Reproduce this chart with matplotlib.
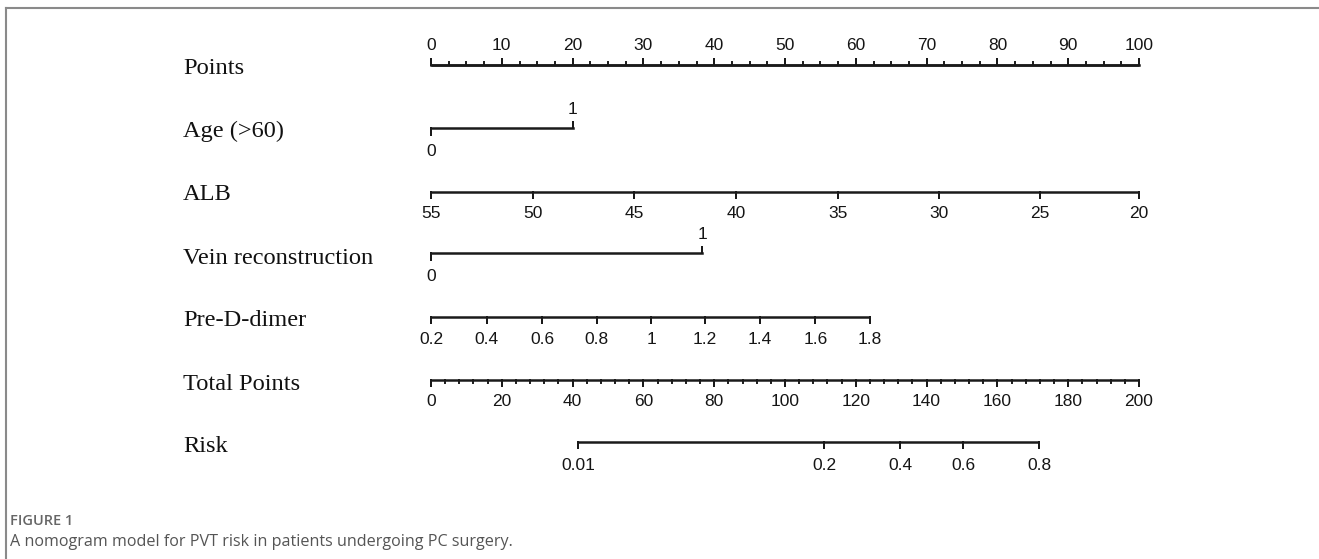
import numpy as np
import matplotlib.pyplot as plt

# nomogram values
points_major = np.arange(0, 101, 10)
points_minor = np.arange(0, 100.1, 2.5)

age_labels = ['0', '1']
age_points = [0, 20]

alb_labels = ['55', '50', '45', '40', '35', '30', '25', '20']
alb_points = [0, 14.4, 28.7, 43.1, 57.5, 71.8, 86.0, 100]

vein_labels = ['0', '1']
vein_points = [0, 38.3]

dd_labels = ['0.2', '0.4', '0.6', '0.8', '1', '1.2', '1.4', '1.6', '1.8']
dd_points = [0, 7.9, 15.7, 23.4, 31.1, 38.7, 46.5, 54.3, 62.0]

total_major = np.arange(0, 201, 20)
total_minor = np.arange(0, 200.1, 4)

risk_labels = ['0.01', '0.2', '0.4', '0.6', '0.8']
risk_total = [41.5, 111.0, 132.5, 150.3, 171.8]

row_names = ['Points', 'Age (>60)', 'ALB', 'Vein reconstruction',
             'Pre-D-dimer', 'Total Points', 'Risk']
row_y = [65, 127.5, 192, 252.5, 317, 380, 441.5]
name_y = [68, 131, 194, 258, 321, 384, 447]

W, H = 1319, 559
fig = plt.figure(figsize=(W / 100, H / 100), dpi=100)
ax = fig.add_axes([0, 0, 1, 1])
# x in "points" units: 0 -> pixel 431, 100 -> pixel 1139
x0, sc = 431, 7.08
ax.set_xlim(-x0 / sc, (W - x0) / sc)
ax.set_ylim(H, 0)
ax.axis('off')

lc = '#1a1a1a'
lw = 1.8
tfont = dict(family='Liberation Sans', size=12.5, color='#151515')


def scale(y, pts, labels, up=False, tick=6, label_off=21):
    ax.plot([min(pts), max(pts)], [y, y], color=lc, lw=lw, solid_capstyle='butt')
    d = -tick if up else tick
    for p, lab in zip(pts, labels):
        ax.plot([p, p], [y, y + d], color=lc, lw=lw * 0.8)
        yy = y - label_off if up else y + label_off
        ax.text(p, yy, lab, ha='center', va='center', **tfont)


# Points
ax.plot([0, 100], [row_y[0], row_y[0]], color=lc, lw=lw)
for p in points_minor:
    ax.plot([p, p], [row_y[0], row_y[0] - 3], color=lc, lw=1.4)
scale(row_y[0], points_major, [str(v) for v in points_major], up=True, label_off=19)

# Age, binary: 0 below, 1 above
ax.plot(age_points, [row_y[1]] * 2, color=lc, lw=lw)
ax.plot([age_points[0]] * 2, [row_y[1], row_y[1] + 7], color=lc, lw=lw * 0.8)
ax.plot([age_points[1]] * 2, [row_y[1], row_y[1] - 6], color=lc, lw=lw * 0.8)
ax.text(age_points[0], row_y[1] + 24, age_labels[0], ha='center', va='center', **tfont)
ax.text(age_points[1], row_y[1] - 18, age_labels[1], ha='center', va='center', **tfont)

scale(row_y[2], alb_points, alb_labels)

ax.plot(vein_points, [row_y[3]] * 2, color=lc, lw=lw)
ax.plot([vein_points[0]] * 2, [row_y[3], row_y[3] + 7], color=lc, lw=lw * 0.8)
ax.plot([vein_points[1]] * 2, [row_y[3], row_y[3] - 6], color=lc, lw=lw * 0.8)
ax.text(vein_points[0], row_y[3] + 24, vein_labels[0], ha='center', va='center', **tfont)
ax.text(vein_points[1], row_y[3] - 18, vein_labels[1], ha='center', va='center', **tfont)

scale(row_y[4], dd_points, dd_labels, label_off=22)

# Total points (200 total -> 100 points)
tp = lambda v: np.asarray(v) / 2.0
for p in tp(total_minor):
    ax.plot([p, p], [row_y[5], row_y[5] + 3], color=lc, lw=1.4)
scale(row_y[5], tp(total_major), [str(v) for v in total_major], label_off=21)

scale(row_y[6], tp(risk_total), risk_labels, label_off=24)

for name, y in zip(row_names, name_y):
    ax.text(-(x0 - 183) / sc, y, name, ha='left', va='center',
            family='Liberation Serif', size=17.6, color='#111111')

# frame of the figure panel
fc = '#8a8a8a'
fig.add_artist(plt.Line2D([6 / W, 1], [1 - 8 / H, 1 - 8 / H], color=fc, lw=1.5))
fig.add_artist(plt.Line2D([6 / W, 6 / W], [0, 1 - 8 / H], color=fc, lw=1.5))

fig.text(10 / W, 1 - 521 / H, 'FIGURE 1', ha='left', va='center',
         family='Open Sans', size=10.5, color='#666666', weight='semibold')
fig.text(10 / W, 1 - 542 / H, 'A nomogram model for PVT risk in patients undergoing PC surgery.',
         ha='left', va='center', family='Open Sans', size=11.6, color='#555555')

fig.savefig('out.png', dpi=100)
